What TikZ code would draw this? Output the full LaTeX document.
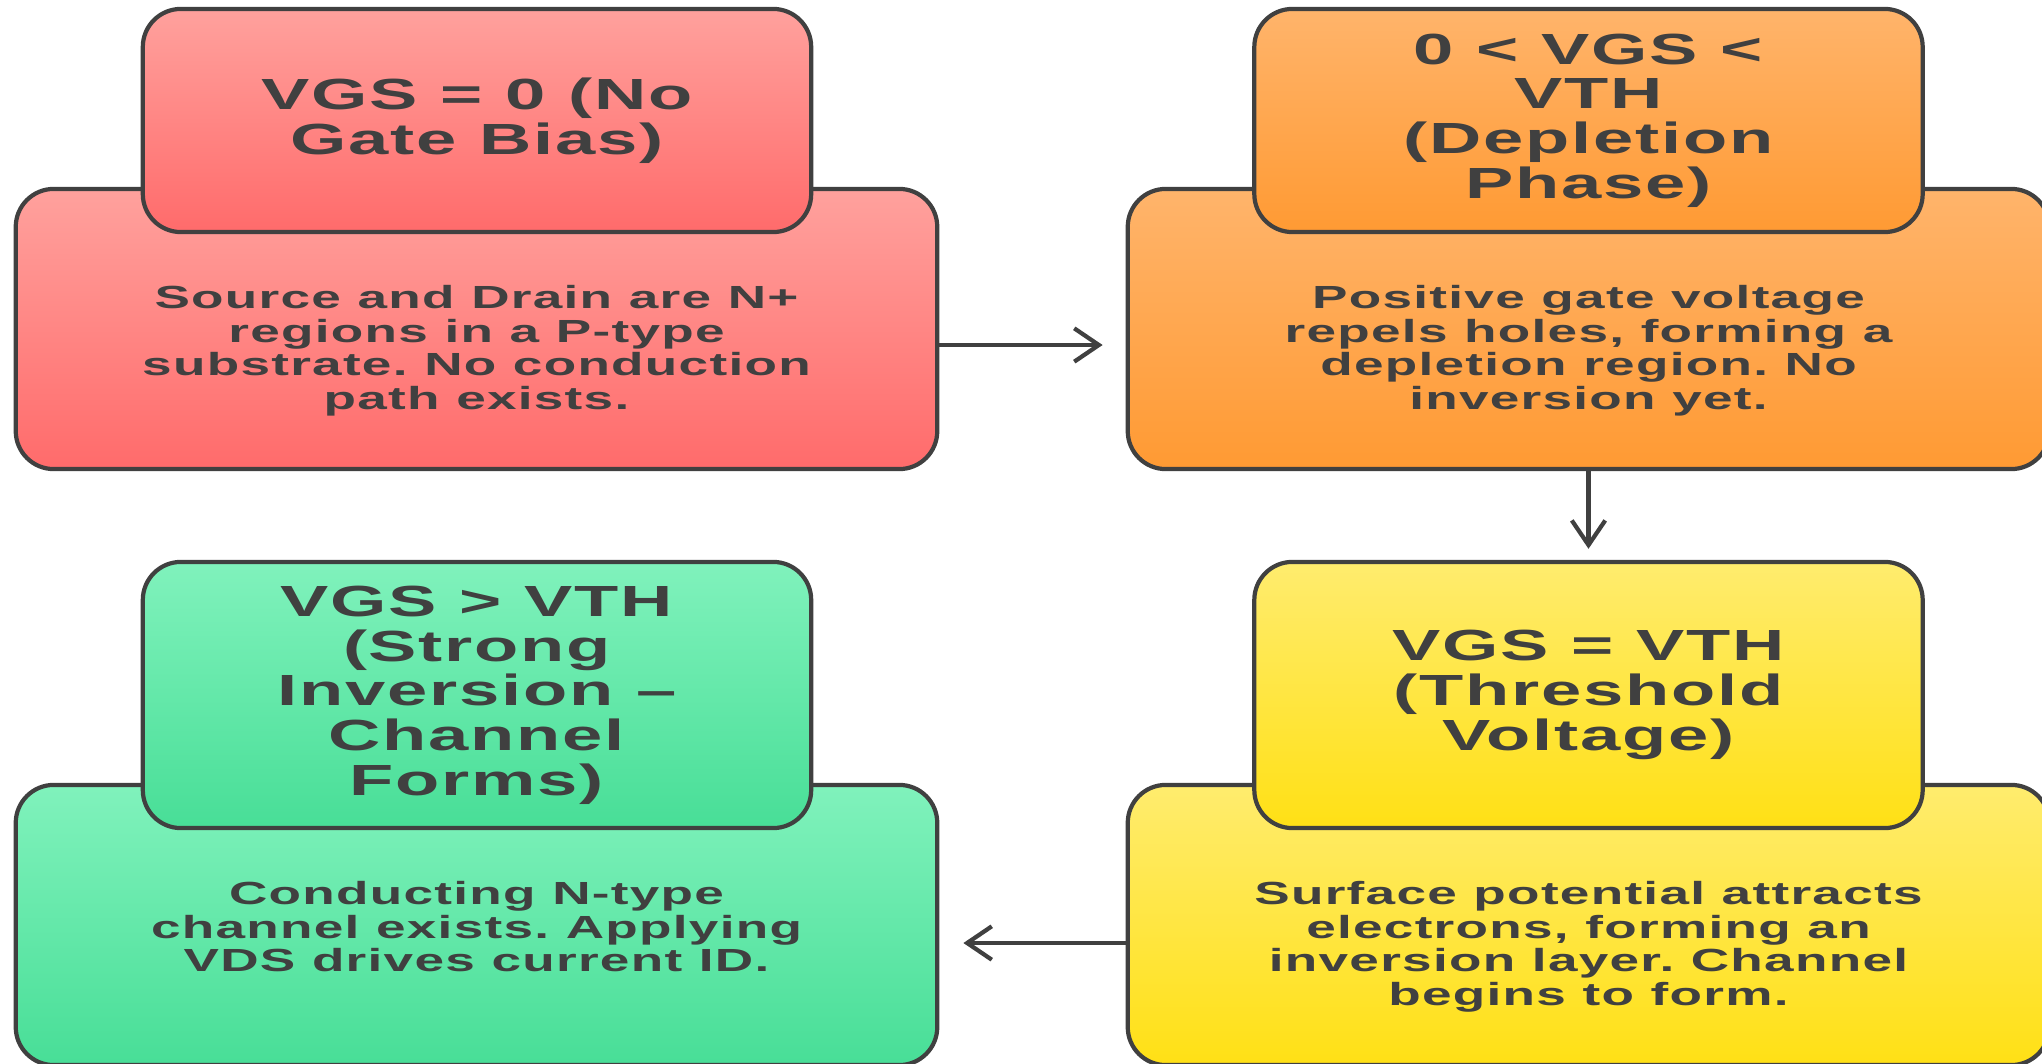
\documentclass[tikz,border=0pt]{standalone}
\usepackage{fontspec}
\usetikzlibrary{arrows.meta}
\newfontfamily\stagefont[FakeStretch=1.66, LetterSpace=4]{Liberation Sans Bold}
\definecolor{inkgray}{HTML}{404040}
\definecolor{redtop}{HTML}{FFA19D}
\definecolor{redbot}{HTML}{FF6B6B}
\definecolor{orangetop}{HTML}{FFB46B}
\definecolor{orangebot}{HTML}{FF9A33}
\definecolor{yellowtop}{HTML}{FFEC6E}
\definecolor{yellowbot}{HTML}{FFE015}
\definecolor{greentop}{HTML}{80F2BC}
\definecolor{greenbot}{HTML}{48DE97}
\tikzset{
  stagebox/.style={draw=inkgray, line width=1.2pt, rounded corners=0.38cm, inner sep=0pt},
  bodybox/.style={stagebox, minimum width=9.21cm, minimum height=2.8cm},
  titlebox/.style={stagebox, minimum width=6.68cm, text width=6.5cm, align=center,
    text=inkgray, font=\stagefont\fontsize{12.4}{12.7}\selectfont,
    execute at begin node={\frenchspacing\spaceskip=0.52em\relax}},
  bodytext/.style={anchor=north, inner sep=0pt, text width=9cm, align=center,
    text=inkgray, font=\stagefont\fontsize{9.1}{9.53}\selectfont,
    execute at begin node={\frenchspacing\spaceskip=0.52em\relax}},
  flow/.style={draw=inkgray, line width=1.2pt, -{Straight Barb[length=7pt,width=9.5pt]}}
}
\begin{document}
\begin{tikzpicture}[x=0.01cm, y=-0.01cm]
\useasboundingbox (0,0) rectangle (2042,1064);
\clip (0,0) rectangle (2042,1064);

% VGS = 0
\node[bodybox, top color=redtop, bottom color=redbot] (nobias) at (476.5,329) {};
\node[titlebox, minimum height=2.23cm, top color=redtop, bottom color=redbot] (nobiastitle) at (477,120.5) {VGS = 0 (No\\Gate Bias)};
\node[bodytext] (nobiastext) at (476.5,285) {Source and Drain are N+\\regions in a P-type\\substrate. No conduction\\path exists.};

% depletion
\node[bodybox, top color=orangetop, bottom color=orangebot] (depletion) at (1588.5,329) {};
\node[titlebox, minimum height=2.23cm, top color=orangetop, bottom color=orangebot] (depletiontitle) at (1588.5,120.5) {0 < VGS <\\VTH\\(Depletion\\Phase)};
\node[bodytext] (depletiontext) at (1588.5,285) {Positive gate voltage\\repels holes, forming a\\depletion region. No\\inversion yet.};

% threshold
\node[bodybox, top color=yellowtop, bottom color=yellowbot] (threshold) at (1588.5,925) {};
\node[titlebox, minimum height=2.66cm, top color=yellowtop, bottom color=yellowbot] (thresholdtitle) at (1588.5,695) {VGS = VTH\\(Threshold\\Voltage)};
\node[bodytext] (thresholdtext) at (1588.5,881) {Surface potential attracts\\electrons, forming an\\inversion layer. Channel\\begins to form.};

% strong inversion
\node[bodybox, top color=greentop, bottom color=greenbot] (inversion) at (476.5,925) {};
\node[titlebox, minimum height=2.66cm, top color=greentop, bottom color=greenbot] (inversiontitle) at (477,695) {VGS > VTH\\(Strong\\Inversion –\\Channel\\Forms)};
\node[bodytext] (inversiontext) at (476.5,881) {Conducting N-type\\channel exists. Applying\\VDS drives current ID.};

% arrows
\draw[flow, shorten >=0.23cm] ([yshift=-0.16cm]nobias.east) -- ([yshift=-0.16cm]depletion.west);
\draw[flow, shorten >=0.11cm] (depletion.south) -- (thresholdtitle.north);
\draw[flow, shorten >=0.24cm] ([yshift=-0.18cm]threshold.west) -- ([yshift=-0.18cm]inversion.east);
\end{tikzpicture}
\end{document}
